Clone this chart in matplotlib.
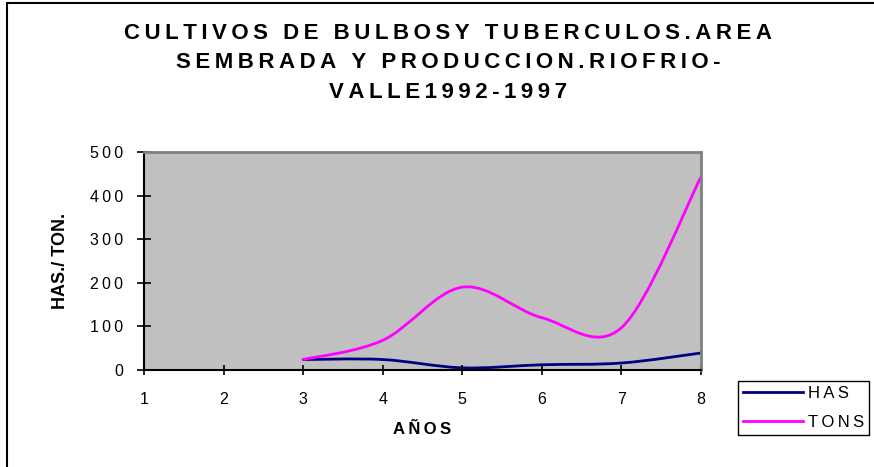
import numpy as np
import matplotlib
matplotlib.use('Agg')
import matplotlib.pyplot as plt
from matplotlib.path import Path
from matplotlib.patches import PathPatch, Rectangle
from matplotlib.lines import Line2D

plt.rcParams['font.family'] = ['Liberation Sans', 'DejaVu Sans']

# data (x = year index on the chart, 3..8 -> 1992..1997)
anos = [3, 4, 5, 6, 7, 8]
has = [24, 24, 5, 12, 16, 39]
tons = [24, 68, 190, 120, 97, 443]
series_names = ['HAS', 'TONS']
series_colors = ['#000080', '#FF00FF']
xticks = [1, 2, 3, 4, 5, 6, 7, 8]
yticks = [0, 100, 200, 300, 400, 500]
title_lines = ['CULTIVOS DE BULBOSY TUBERCULOS.AREA',
               'SEMBRADA Y PRODUCCION.RIOFRIO-',
               'VALLE1992-1997']

THIN = '\u2009'


def spaced(s, sep=THIN):
    return sep.join(s)


def smooth_path(x, y):
    # excel-like smoothed line: cubic bezier through the points
    pts = np.column_stack([x, y]).astype(float)
    n = len(pts)
    verts = [pts[0]]
    codes = [Path.MOVETO]
    for i in range(n - 1):
        p0 = pts[i - 1] if i > 0 else pts[i]
        p1 = pts[i]
        p2 = pts[i + 1]
        p3 = pts[i + 2] if i + 2 < n else pts[i + 1]
        c1 = p1 + (p2 - p0) / 6.0
        c2 = p2 - (p3 - p1) / 6.0
        verts += [c1, c2, p2]
        codes += [Path.CURVE4] * 3
    return Path(verts, codes)


W, H = 874, 467
fig = plt.figure(figsize=(W / 100, H / 100), dpi=100)
ax = fig.add_axes([144 / W, 1 - 370 / H, (701 - 144) / W, (370 - 152) / H])
ax.set_facecolor('#C0C0C0')

for yy, name, col in zip([has, tons], series_names, series_colors):
    ax.add_patch(PathPatch(smooth_path(anos, yy), fill=False, edgecolor=col,
                           lw=2.0, capstyle='round', joinstyle='round'))

ax.set_xlim(1, 8)
ax.set_ylim(0, 500)
ax.set_xticks(xticks)
ax.set_xticklabels([str(t) for t in xticks], fontsize=11.5)
ax.set_yticks(yticks)
ax.set_yticklabels([spaced(str(t)) for t in yticks], fontsize=11.5)
ax.tick_params(axis='y', direction='inout', length=10, width=1.2, pad=10)
ax.tick_params(axis='x', direction='inout', length=7, width=1.2, pad=12)

for s in ['left', 'bottom']:
    ax.spines[s].set_color('black')
    ax.spines[s].set_linewidth(1.5)
for s in ['top', 'right']:
    ax.spines[s].set_color('#808080')
    ax.spines[s].set_linewidth(2)

ax.set_xlabel(spaced('AÑOS'), fontsize=12, fontweight='bold', labelpad=11)
ax.set_ylabel('HAS./ TON.', fontsize=13, fontweight='bold', labelpad=15)

fig.text(448 / W, 1 - 63 / H, '\n'.join(spaced(l) for l in title_lines),
         ha='center', va='center', fontsize=16, fontweight='bold',
         linespacing=1.55)

handles = [Line2D([], [], color=c, lw=2) for c in series_colors]
fig.legend(handles, [spaced(n) for n in series_names],
           loc='upper left', bbox_to_anchor=(738 / W, 1 - 381 / H),
           bbox_transform=fig.transFigure, fancybox=False, edgecolor='black',
           framealpha=1, borderaxespad=0, fontsize=12, handlelength=3.6,
           handletextpad=0.3, borderpad=0.3, labelspacing=0.85)

fig.patches.append(Rectangle((7 / W, -0.1), 1.2, 1.1 - 3 / H, transform=fig.transFigure,
                             fill=False, edgecolor='black', lw=1.5, zorder=0))

fig.savefig('out.png', dpi=100)
